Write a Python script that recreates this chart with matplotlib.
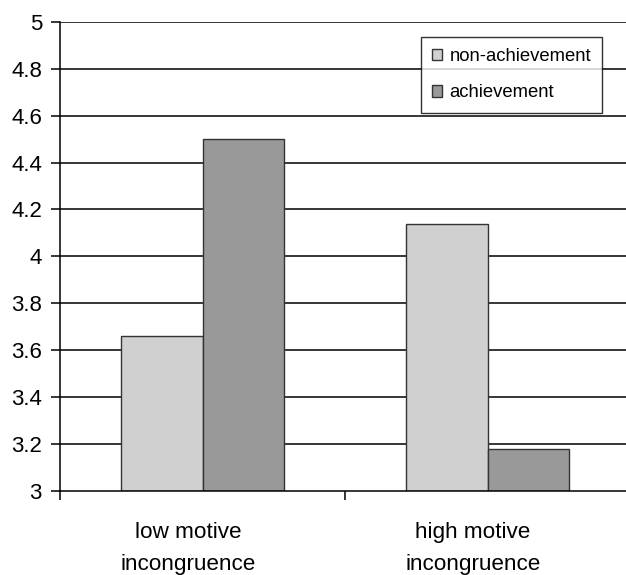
import matplotlib
matplotlib.use("Agg")
import matplotlib.pyplot as plt
import numpy as np
from matplotlib.patches import Patch

plt.rcParams['font.family'] = ['Liberation Sans', 'DejaVu Sans']

categories = ["low motive\nincongruence", "high motive\nincongruence"]
series_names = ["non-achievement", "achievement"]
non_achievement = [3.66, 4.14]
achievement = [4.50, 3.18]
y_ticks = [3.0, 3.2, 3.4, 3.6, 3.8, 4.0, 4.2, 4.4, 4.6, 4.8, 5.0]

W, H = 626, 575
fig = plt.figure(figsize=(W / 100, H / 100), dpi=100)
left, right, top, bottom = 60, 630.6, 22, 490.7
ax = fig.add_axes([left / W, 1 - bottom / H, (right - left) / W, (bottom - top) / H])

x = np.arange(len(categories))
w = 0.2857
light, dark = "#d0d0d0", "#999999"
edge = "#333333"

ax.set_xlim(-0.5, len(categories) - 0.5)
ax.set_ylim(y_ticks[0], y_ticks[-1])

# horizontal gridlines behind the bars
for yt in y_ticks[1:]:
    ax.axhline(yt, color="black", lw=1.1, zorder=1)

ax.bar(x - w / 2, np.array(non_achievement) - y_ticks[0], w, bottom=y_ticks[0],
       color=light, edgecolor=edge, linewidth=1.0, zorder=3)
ax.bar(x + w / 2, np.array(achievement) - y_ticks[0], w, bottom=y_ticks[0],
       color=dark, edgecolor=edge, linewidth=1.0, zorder=3)

for s in ["top", "right"]:
    ax.spines[s].set_visible(False)
for s in ["left", "bottom"]:
    ax.spines[s].set_color("black")
    ax.spines[s].set_linewidth(1.1)
    ax.spines[s].set_zorder(4)

ax.set_yticks(y_ticks)
ax.set_yticklabels([f"{v:g}" for v in y_ticks])
ax.tick_params(axis="y", direction="out", length=6.5, width=1.1, pad=6.5,
               labelsize=16, colors="black")

ax.set_xticks(np.arange(-0.5, len(categories)))
ax.set_xticklabels([])
ax.tick_params(axis="x", direction="out", length=6.5, width=1.1)

# category labels (two lines each)
tr = ax.get_xaxis_transform()
ax_h = bottom - top
for xi, cat in zip(x, categories):
    l1, l2 = cat.split("\n")
    ax.text(xi - 0.052, -(538.3 - bottom) / ax_h, l1, transform=tr, ha="center",
            va="baseline", fontsize=16.2)
    ax.text(xi - 0.052, -(570.0 - bottom) / ax_h, l2, transform=tr, ha="center",
            va="baseline", fontsize=16.2)

handles = [Patch(facecolor=light, edgecolor=edge, linewidth=1.0),
           Patch(facecolor=dark, edgecolor=edge, linewidth=1.0)]
leg = fig.legend(handles, series_names, loc="upper left",
                 bbox_to_anchor=(421 / W, 1 - 37 / H), fontsize=13.3,
                 frameon=True, fancybox=False, edgecolor="black",
                 borderpad=0.6, handlelength=0.55, handleheight=0.55,
                 handletextpad=0.4, labelspacing=1.05, borderaxespad=0)
leg.get_frame().set_linewidth(1.0)
leg.set_zorder(5)

fig.savefig("out.png", dpi=100)
